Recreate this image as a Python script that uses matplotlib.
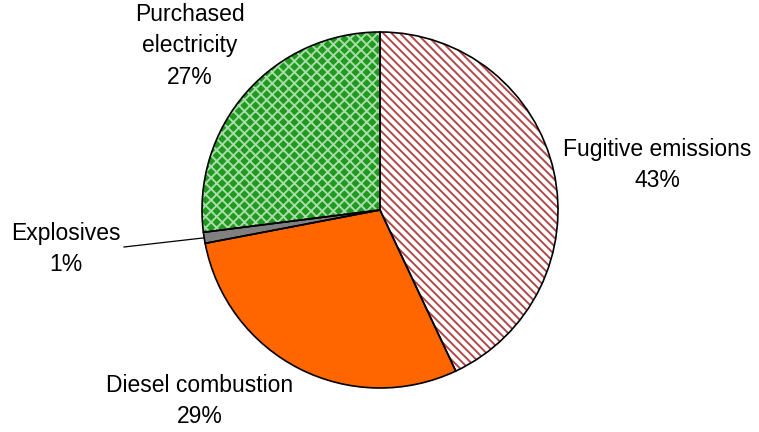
import numpy as np
import matplotlib.pyplot as plt

plt.rcParams['font.family'] = ['Liberation Sans', 'DejaVu Sans']
plt.rcParams['hatch.linewidth'] = 1.4

# data
sources = ['Fugitive emissions', 'Diesel combustion', 'Explosives', 'Purchased electricity']
shares = [43, 29, 1, 27]
label_text = ['Fugitive emissions', 'Diesel combustion', 'Explosives', 'Purchased\nelectricity']

face = ['white', '#FF6600', '#808080', '#1F9A1F']
hatch = ['\\\\\\\\', None, None, 'xxx']
hatch_col = ['#B04848', '#FF6600', '#808080', '#A8DCA8']

# pixel layout of the original
W, H = 759, 432
cx, cy, rad = 380, 210, 178
label_px = [(657, 165), (200, 401), (66, 249), (190, 46)]

fig = plt.figure(figsize=(W / 100, H / 100), dpi=100)
ax = fig.add_axes([0, 0, 1, 1])

# fill + hatch pass
wedges, _ = ax.pie(shares, startangle=90, counterclock=False, radius=1,
                   colors=face, wedgeprops=dict(linewidth=0))
for w, h, hc in zip(wedges, hatch, hatch_col):
    if h:
        w.set_hatch(h)
        w.set_edgecolor(hc)
# outline pass
ax.pie(shares, startangle=90, counterclock=False, radius=1,
       colors=['none'] * 4, wedgeprops=dict(linewidth=1.2, edgecolor='black'))

ax.set_aspect('auto')
ax.set_xlim(-cx / rad, (W - cx) / rad)
ax.set_ylim(-(H - cy) / rad, cy / rad)
ax.axis('off')

for i, (w, txt, v) in enumerate(zip(wedges, label_text, shares)):
    px, py = label_px[i]
    x, y = (px - cx) / rad, (cy - py) / rad
    ax.text(x, y, f'{txt}\n{v}%', ha='center', va='center', fontsize=16.5,
            linespacing=1.45, color='black')

# leader line for the small slice
w = wedges[2]
ang = np.deg2rad((w.theta1 + w.theta2) / 2)
ex, ey = np.cos(ang), np.sin(ang)
ax.plot([ex, (124 - cx) / rad], [ey, (cy - 247) / rad], color='black', lw=0.9)

fig.savefig('out.png', dpi=100)
